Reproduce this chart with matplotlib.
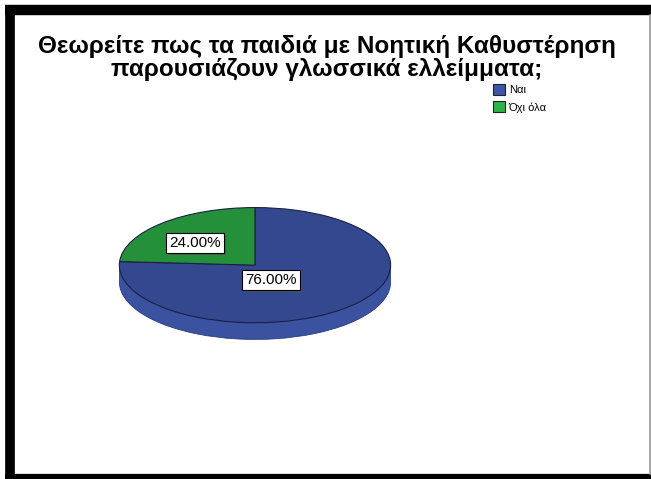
import matplotlib
matplotlib.use("Agg")
import matplotlib.pyplot as plt
import matplotlib.patheffects as pe

plt.rcParams["font.family"] = ["Liberation Sans", "DejaVu Sans"]

title = "Θεωρείτε πως τα παιδιά με Νοητική Καθυστέρηση\nπαρουσιάζουν γλωσσικά ελλείμματα;"
labels = ["Ναι", "Όχι όλα"]
percents = [76.0, 24.0]
top_colors = ["#34488f", "#24903a"]
side_colors = ["#3a52a0", "#2a9e44"]
legend_colors = ["#3c56a8", "#2db34a"]

W, H = 651, 479
fig = plt.figure(figsize=(W / 100, H / 100), dpi=100)

# frame around the chart, drawn in pixel units
bg = fig.add_axes([0, 0, 1, 1])
bg.set_xlim(0, W)
bg.set_ylim(H, 0)
bg.axis("off")
bg.plot([5, W], [10, 10], color="black", lw=7.5, solid_capstyle="butt")
bg.plot([10, 10], [5, H], color="black", lw=7, solid_capstyle="butt")
bg.plot([5, W], [477, 477], color="black", lw=4.5, solid_capstyle="butt")
bg.plot([649.5, 649.5], [15, 474], color="#999999", lw=1.2)

fig.text(327 / W, 1 - 58 / H, title, ha="center", va="center",
         fontsize=17.5, fontweight="bold", linespacing=1.0)

# tilted pie: axes box spans the ellipse plus its side depth
depth = 0.29
x0, x1, y0, y1 = 118, 392, 207, 340
ax = fig.add_axes([x0 / W, 1 - y1 / H, (x1 - x0) / W, (y1 - y0) / H])
edge = dict(edgecolor="#1c2040", linewidth=0.8)
ax.pie(percents, colors=side_colors, startangle=90, counterclock=False,
       center=(0, -depth), wedgeprops=dict(edgecolor="#2a3a80", linewidth=0.6))
ax.fill_between([-1, 1], -depth, 0, color=side_colors[0], lw=0)
wedges, _ = ax.pie(percents, colors=top_colors, startangle=90,
                   counterclock=False, wedgeprops=edge)
ax.set_aspect("auto")
ax.set_xlim(-1.01, 1.01)
ax.set_ylim(-1 - depth - 0.01, 1.01)
ax.axis("off")

label_pos = [(0.12, -0.26), (-0.44, 0.38)]
for p, (lx, ly) in zip(percents, label_pos):
    t = ax.text(lx, ly, f"{p:.2f}%", ha="center", va="center", fontsize=11,
                bbox=dict(boxstyle="square,pad=0.2", fc="white", ec="black", lw=0.8))
    t.get_bbox_patch().set_path_effects(
        [pe.withSimplePatchShadow(offset=(1.5, -1.5), shadow_rgbFace="#555555", alpha=0.8)])

handles = [plt.Rectangle((0, 0), 1, 1, fc=c, ec="#222222", lw=0.8)
           for c in legend_colors]
fig.legend(handles, labels, loc="upper left",
           bbox_to_anchor=(491 / W, 1 - 82 / H), frameon=False, fontsize=8,
           handlelength=1.1, handleheight=1.1, handletextpad=0.3,
           labelspacing=0.55, borderaxespad=0, borderpad=0.2)

fig.savefig("out.png", dpi=100)
